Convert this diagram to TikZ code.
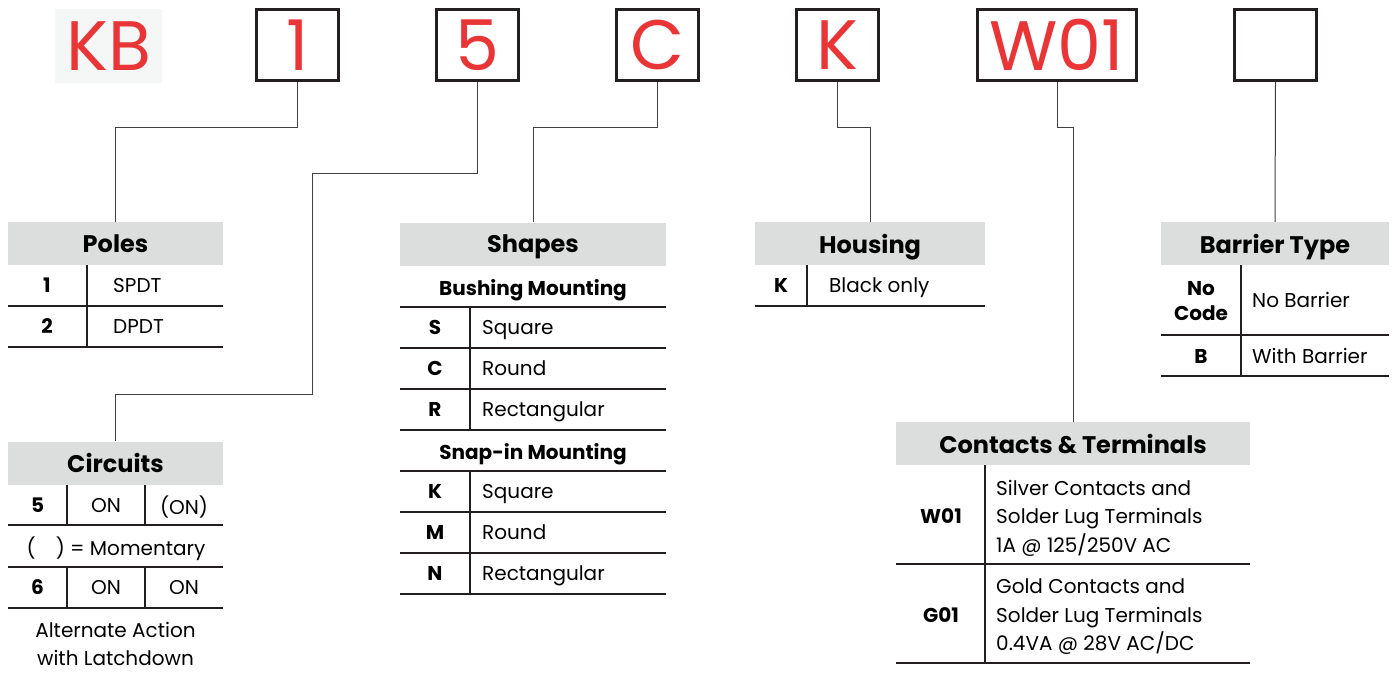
\documentclass[tikz,border=0pt]{standalone}
\usepackage{fontspec}
\setmainfont{Poppins}
\usetikzlibrary{positioning}

\definecolor{codered}{RGB}{234,53,54}
\definecolor{headgray}{RGB}{220,221,221}
\definecolor{kbgray}{RGB}{245,247,247}
\definecolor{rulegray}{RGB}{35,31,32}

\tikzset{
  codebox/.style={draw=rulegray, line width=2.8pt, minimum width=82pt, minimum height=71pt, inner sep=0pt, text=codered, font=\fontsize{70}{70}\selectfont},
  headbox/.style={fill=headgray, minimum height=43pt, inner sep=0pt, text depth=0pt, font=\bfseries\fontsize{24}{24}\selectfont},
  cell/.style={inner sep=0pt, text depth=0pt, font=\fontsize{20}{24}\selectfont},
  key/.style={inner sep=0pt, text depth=0pt, font=\bfseries\fontsize{20}{24}\selectfont},
  rowline/.style={line width=1.2pt, draw=rulegray},
  link/.style={line width=1pt, draw=black!75},
}

\begin{document}
\begin{tikzpicture}[line cap=butt, line join=miter, x=1pt, y=-1pt]
\useasboundingbox (0,0) rectangle (1398,675);

% part number boxes
\node[fill=kbgray, minimum width=107pt, minimum height=74pt, inner sep=0pt, text depth=0pt, text=codered, font=\fontsize{70}{70}\selectfont] (kb) at (108.5,46) {KB};
\node[codebox, text depth=0pt] (b1) at (297.5,45) {1};
\node[codebox, text depth=0pt] (b5) at (477.5,45) {5};
\node[codebox, text depth=0pt] (bC) at (657.5,45) {C};
\node[codebox, text depth=0pt] (bK) at (837.5,45) {K};
\node[codebox, text depth=0pt, minimum width=159pt] (bW) at (1057,45) {W01};
\node[codebox] (bB) at (1275.5,45) {};

% Poles
\node[headbox, minimum width=215pt] (poles) at (115.5,243.5) {Poles};
\draw[rowline] (8,306) -- (223,306) (8,347) -- (223,347) (87,265) -- (87,347);
\node[key] (p1) at (47,285.5) {1};
\node[cell, anchor=west] (p1t) at (113,285.5) {SPDT};
\node[key] (p2) at (47,326.5) {2};
\node[cell, anchor=west] (p2t) at (113,326.5) {DPDT};

% Circuits
\node[headbox, minimum width=215pt] (circuits) at (115.5,463) {Circuits};
\draw[rowline] (8,525) -- (223,525) (8,567) -- (223,567) (8,608) -- (223,608);
\draw[rowline] (67,485) -- (67,525) (145,485) -- (145,525) (67,567) -- (67,608) (145,567) -- (145,608);
\node[key] (c5) at (37.5,505) {5};
\node[cell] (c5a) at (106,505) {ON};
\node[cell] (c5b) at (184,505) {(ON)};
\node[cell] (cmom) at (116,546) {(\hspace{20pt}) = Momentary};
\node[key] (c6) at (37.5,587.5) {6};
\node[cell] (c6a) at (106,587.5) {ON};
\node[cell] (c6b) at (184,587.5) {ON};
\node[cell, align=center, font=\fontsize{20}{28}\selectfont] (calt) at (115.5,644) {Alternate Action\\with Latchdown};

% Shapes
\node[headbox, minimum width=266pt] (shapes) at (533,244) {Shapes};
\node[key] (sbush) at (533,287) {Bushing Mounting};
\draw[rowline] (400,307) -- (666,307) (400,348) -- (666,348) (400,389) -- (666,389) (400,430) -- (666,430);
\draw[rowline] (470,307) -- (470,430);
\node[key] (sS) at (435,327.5) {S};
\node[cell, anchor=west] (sSt) at (482,327.5) {Square};
\node[key] (sC) at (435,368.5) {C};
\node[cell, anchor=west] (sCt) at (482,368.5) {Round};
\node[key] (sR) at (435,409.5) {R};
\node[cell, anchor=west] (sRt) at (482,409.5) {Rectangular};
\node[key] (ssnap) at (533,451) {Snap-in Mounting};
\draw[rowline] (400,471) -- (666,471) (400,512) -- (666,512) (400,553) -- (666,553) (400,594) -- (666,594);
\draw[rowline] (470,471) -- (470,594);
\node[key] (sK) at (435,491.5) {K};
\node[cell, anchor=west] (sKt) at (482,491.5) {Square};
\node[key] (sM) at (435,532.5) {M};
\node[cell, anchor=west] (sMt) at (482,532.5) {Round};
\node[key] (sN) at (435,573.5) {N};
\node[cell, anchor=west] (sNt) at (482,573.5) {Rectangular};

% Housing
\node[headbox, minimum width=230pt] (housing) at (870,243.5) {Housing};
\draw[rowline] (755,306) -- (985,306) (807,265) -- (807,306);
\node[key] (hK) at (781,285.5) {K};
\node[cell, anchor=west] (hKt) at (829,285.5) {Black only};

% Barrier Type
\node[headbox, minimum width=228pt] (barrier) at (1275,243.5) {Barrier Type};
\draw[rowline] (1161,335) -- (1389,335) (1161,376) -- (1389,376) (1241,265) -- (1241,376);
\node[key, align=center, font=\bfseries\fontsize{20}{25}\selectfont] (bno) at (1201,301) {No\\Code};
\node[cell, anchor=west] (bnot) at (1252,300) {No Barrier};
\node[key] (bwb) at (1201,356) {B};
\node[cell, anchor=west] (bwbt) at (1252,356) {With Barrier};

% Contacts & Terminals
\node[headbox, minimum width=354pt] (contacts) at (1073,443.5) {Contacts \& Terminals};
\draw[rowline] (896,564) -- (1250,564) (896,663) -- (1250,663) (985,465) -- (985,663);
\node[key] (tW) at (941,516) {W01};
\node[cell, anchor=west, align=left, font=\fontsize{20}{28.5}\selectfont] (tWt) at (996,516) {Silver Contacts and\\Solder Lug Terminals\\1A @ 125/250V AC};
\node[key] (tG) at (941,615) {G01};
\node[cell, anchor=west, align=left, font=\fontsize{20}{28.5}\selectfont] (tGt) at (996,615) {Gold Contacts and\\Solder Lug Terminals\\0.4VA @ 28V AC/DC};

% connectors
\draw[link] (b1.south) -- ++(0,46) -| (poles.north);
\draw[link] (b5.south) |- ++(-165,92) -- ++(0,221) -| (circuits.north);
\draw[link] (bC.south) -- ++(0,46) -| (shapes.north);
\draw[link] (bK.south) -- ++(0,46) -| (housing.north);
\draw[link] (bW.south) -- ++(0,46) -| (contacts.north);
\draw[link] (bB.south) -- (barrier.north);
\end{tikzpicture}
\end{document}
